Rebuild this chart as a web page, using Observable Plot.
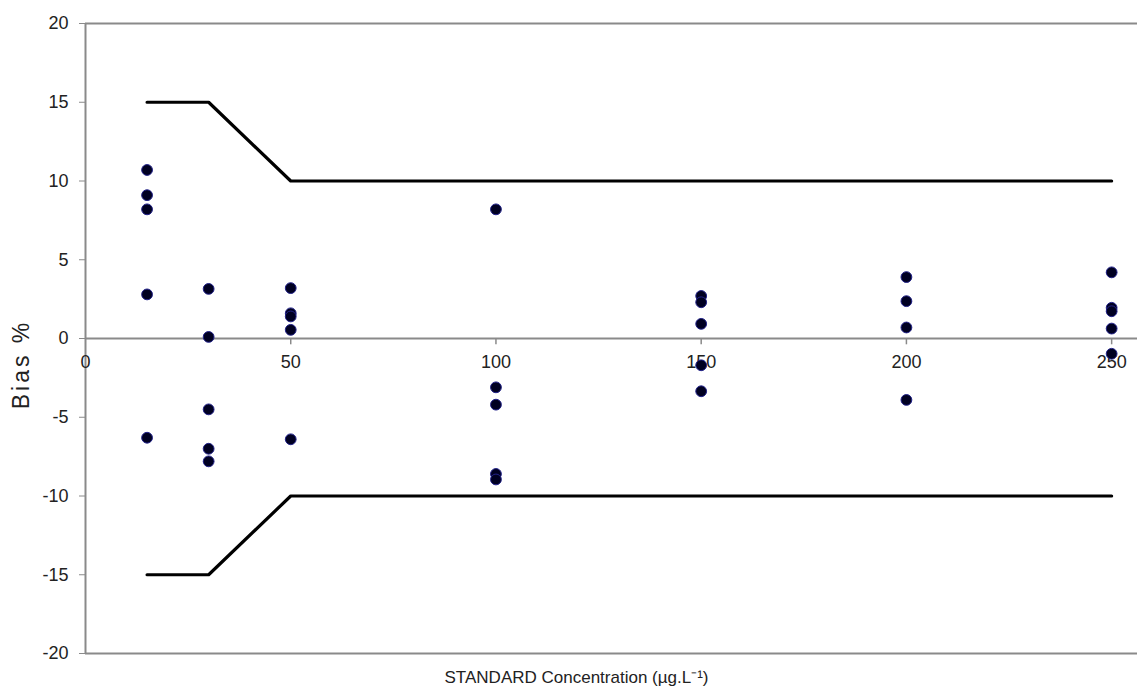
<!DOCTYPE html>
<html>
<head>
<meta charset="utf-8">
<script src="https://cdn.jsdelivr.net/npm/d3@7"></script>
<script src="https://cdn.jsdelivr.net/npm/@observablehq/plot@0.6"></script>
<style>
  html, body { margin: 0; padding: 0; background: #fff; }
  #chart svg { display: block; }
</style>
</head>
<body>
<div id="chart"></div>
<script>
// Measured bias (%) per standard concentration (µg/L)
const conc15  = [10.7, 9.1, 8.2, 2.8, -6.3];
const conc30  = [3.15, 0.1, -4.5, -7.0, -7.8];
const conc50  = [3.2, 1.6, 1.4, 0.55, -6.4];
const conc100 = [8.2, -3.1, -4.2, -8.6, -8.95];
const conc150 = [2.7, 2.3, 0.93, -1.7, -3.35];
const conc200 = [3.9, 2.37, 0.7, -3.9];
const conc250 = [4.2, 1.95, 1.73, 0.63, -0.97];

const levels = [15, 30, 50, 100, 150, 200, 250];
const seriesByLevel = [conc15, conc30, conc50, conc100, conc150, conc200, conc250];

// Acceptance limits
const limitX = [15, 30, 50, 250];
const upperLimit = [15, 15, 10, 10];
const lowerLimit = [-15, -15, -10, -10];

const xTicks = [0, 50, 100, 150, 200, 250];
const yTicks = [-20, -15, -10, -5, 0, 5, 10, 15, 20];

const points = levels.flatMap((c, i) => seriesByLevel[i].map(b => ({conc: c, bias: b})));
const upper = limitX.map((c, i) => ({conc: c, bias: upperLimit[i]}));
const lower = limitX.map((c, i) => ({conc: c, bias: lowerLimit[i]}));

const font = "'Liberation Sans', Arial, sans-serif";
const grey = "#8a8a8a";

const chart = Plot.plot({
  width: 1137,
  height: 687,
  marginLeft: 85,
  marginRight: 0,
  marginTop: 23,
  marginBottom: 34,
  style: {fontFamily: font, background: "#fff"},
  x: {domain: [0, 256.3], axis: null},
  y: {domain: [-20, 20], axis: null},
  marks: [
    Plot.ruleY([20, -20], {stroke: grey, strokeWidth: 2}),
    Plot.ruleY([0], {stroke: grey, strokeWidth: 2}),
    Plot.ruleX([0], {stroke: grey, strokeWidth: 2}),
    Plot.axisY(yTicks, {
      ticks: yTicks, tickSize: 6, tickPadding: 11, fontSize: 18,
      stroke: grey, color: "#222", label: null, tickFormat: d => String(d)
    }),
    Plot.ruleX(xTicks.slice(1), {x: d => d, y1: 0, y2: -0.4, stroke: grey, strokeWidth: 1.5}),
    Plot.text(xTicks, {x: d => d, y: 0, dy: 24, text: d => String(d), fontSize: 18, fill: "#222"}),
    Plot.line(upper, {x: "conc", y: "bias", stroke: "#000", strokeWidth: 3.2}),
    Plot.line(lower, {x: "conc", y: "bias", stroke: "#000", strokeWidth: 3.2}),
    Plot.dot(points, {x: "conc", y: "bias", r: 5.4, fill: "#000022", stroke: "#22228a", strokeWidth: 1}),
    Plot.text(["Bias %"], {frameAnchor: "left", textAnchor: "middle", lineAnchor: "middle", dx: -64, dy: 26, rotate: -90, fontSize: 23, fill: "#222", text: d => d}),
    Plot.text(["STANDARD Concentration (µg.L\u207B\u00B9)"], {frameAnchor: "bottom", textAnchor: "middle", lineAnchor: "middle", dx: -35, dy: 24, fontSize: 17, fill: "#222", text: d => d})
  ]
});

// widen the rotated y label slightly, as in the reference
d3.select(chart).selectAll("text").filter(function() { return this.textContent === "Bias %"; })
  .style("letter-spacing", "3px");

document.getElementById("chart").append(chart);
</script>
</body>
</html>
